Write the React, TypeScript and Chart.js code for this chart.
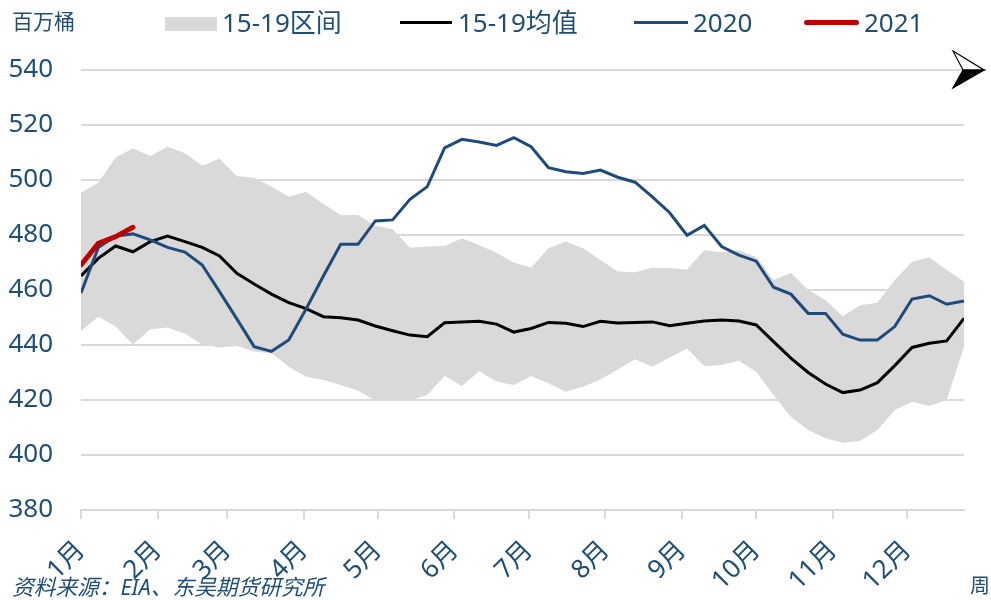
import React, { useEffect, useRef } from "react";
import { Chart, registerables } from "chart.js";

Chart.register(...registerables);

// ---- data (weekly, 52 weeks) ----
const monthLabels = ["1月", "2月", "3月", "4月", "5月", "6月", "7月", "8月", "9月", "10月", "11月", "12月"];
// month tick positions in week units
const monthTicks = [0, 4.43, 8.43, 12.86, 17.14, 21.57, 25.86, 30.29, 34.71, 39, 43.43, 47.71];
const yTicks = [380, 400, 420, 440, 460, 480, 500, 520, 540];

const bandUpper = [
  495.4, 499, 508.2, 511.5, 508.7, 512.1, 509.7, 505.3, 507.7, 501.5,
  500.8, 497.6, 493.9, 495.7, 491.3, 487.3, 487.3, 483.4, 482.1, 475.4,
  475.8, 476, 478.8, 476.4, 473.5, 470, 468.2, 475.2, 477.6, 475.2,
  470.9, 466.7, 466.5, 468.2, 467.9, 467.5, 474.5, 473.7, 474.5, 472,
  463.6, 466.3, 460, 456.4, 450.5, 454.5, 455.4, 463.6, 470.3, 471.9,
  467.3, 463,
];
const bandLower = [
  445.1, 450.3, 446.7, 440.2, 445.7, 446.4, 444.2, 440.2, 439.1, 439.6,
  437.6, 437, 432.1, 428.5, 427.3, 425.5, 423.4, 419.8, 420.3, 419.8,
  421.8, 428.7, 425.1, 430.5, 426.7, 425.5, 428.7, 426.1, 423, 424.8,
  427.5, 431.1, 434.8, 432.1, 435.5, 438.7, 432.4, 432.7, 434.3, 430.3,
  421.8, 413.9, 409.1, 406.1, 404.5, 405.2, 409.1, 416.4, 419.4, 417.8,
  420, 439.4,
];
const mean1519 = [
  465.1, 471.5, 476, 473.9, 477.6, 479.6, 477.6, 475.5, 472.4, 466.1,
  462.2, 458.5, 455.4, 453.2, 450.3, 449.9, 449.1, 446.9, 445.2, 443.6,
  443, 448.1, 448.4, 448.6, 447.6, 444.7, 446, 448.2, 447.9, 446.7,
  448.6, 448, 448.2, 448.4, 447, 447.9, 448.7, 449.1, 448.7, 447.3,
  441.2, 435.2, 430, 425.8, 422.7, 423.6, 426.3, 432.5, 439.1, 440.6,
  441.5, 449.7,
];
const y2020 = [
  458.9, 475.5, 479.6, 480.4, 478.2, 475.5, 473.8, 469.1, 459.4, 449.5,
  439.4, 437.7, 441.8, 453.1, 465.1, 476.6, 476.6, 485.1, 485.5, 493,
  497.6, 511.7, 514.8, 513.8, 512.6, 515.4, 512.1, 504.5, 503, 502.4,
  503.6, 501, 499.2, 493.9, 488.1, 479.9, 483.5, 475.8, 472.7, 470.5,
  461, 458.5, 451.5, 451.5, 443.9, 441.8, 441.8, 446.7, 456.7, 457.9,
  454.8, 456,
];
const y2021 = [469.1, 477, 479.4, 482.8];

const TEXT = "#1f4e79";
const BLUE = "#1f4a7c";
const RED = "#c00000";
const GRAY = "#d9d9d9";
const FONT = '"Noto Sans", "Noto Sans CJK SC", sans-serif';

const toXY = (arr: number[]) => arr.map((v, i) => ({ x: i, y: v }));

export default function App() {
  const ref = useRef<HTMLCanvasElement | null>(null);

  useEffect(() => {
    if (!ref.current) return;
    const chart = new Chart(ref.current, {
      type: "line",
      data: {
        datasets: [
          {
            label: "2021",
            data: toXY(y2021),
            borderColor: RED,
            borderWidth: 5,
            borderCapStyle: "round",
            borderJoinStyle: "round",
            pointRadius: 0,
            fill: false,
          },
          {
            label: "2020",
            data: toXY(y2020),
            borderColor: BLUE,
            borderWidth: 3,
            pointRadius: 0,
            fill: false,
          },
          {
            label: "15-19均值",
            data: toXY(mean1519),
            borderColor: "#000000",
            borderWidth: 3,
            pointRadius: 0,
            fill: false,
          },
          {
            label: "15-19区间",
            data: toXY(bandUpper),
            borderWidth: 0,
            borderColor: "rgba(0,0,0,0)",
            backgroundColor: GRAY,
            pointRadius: 0,
            fill: "+1",
          },
          {
            label: "lower",
            data: toXY(bandLower),
            borderWidth: 0,
            borderColor: "rgba(0,0,0,0)",
            pointRadius: 0,
            fill: false,
          },
        ],
      },
      options: {
        animation: false,
        responsive: false,
        layout: { padding: { top: 70, right: 27, bottom: 0, left: 0 } },
        plugins: {
          legend: { display: false },
          tooltip: { enabled: false },
          filler: { drawTime: "beforeDatasetsDraw" },
        },
        scales: {
          x: {
            type: "linear",
            min: 0,
            max: 51,
            afterBuildTicks: (s: any) => {
              s.ticks = monthTicks.map((v) => ({ value: v }));
            },
            afterFit: (s: any) => {
              s.height = 90;
            },
            ticks: {
              autoSkip: false,
              minRotation: 45,
              maxRotation: 45,
              padding: 16,
              color: TEXT,
              font: { size: 26, family: FONT },
              callback: (_v: any, i: number) => monthLabels[i],
            },
            grid: {
              drawOnChartArea: false,
              drawTicks: true,
              tickLength: 9,
              color: GRAY,
              lineWidth: 2,
            },
            border: { display: true, color: GRAY, width: 2 },
          },
          y: {
            min: 380,
            max: 540,
            afterBuildTicks: (s: any) => {
              s.ticks = yTicks.map((v) => ({ value: v }));
            },
            afterFit: (s: any) => {
              s.width = 81;
            },
            ticks: {
              padding: 28,
              color: TEXT,
              font: { size: 26, family: FONT },
            },
            grid: { color: GRAY, lineWidth: 2, drawTicks: false },
            border: { display: false },
          },
        },
      },
    });
    return () => chart.destroy();
  }, []);

  const txt = (extra: React.CSSProperties): React.CSSProperties => ({
    position: "absolute",
    color: TEXT,
    fontFamily: FONT,
    lineHeight: 1,
    whiteSpace: "nowrap",
    ...extra,
  });

  return (
    <div style={{ position: "fixed", left: 0, top: 0, width: 991, height: 600, background: "#fff", overflow: "hidden" }}>
      <canvas ref={ref} width={991} height={600} style={{ position: "absolute", left: 0, top: 0 }} />
      <div style={txt({ left: 12, top: 11, fontSize: 21 })}>百万桶</div>
      {/* legend */}
      <div style={{ position: "absolute", left: 165, top: 17, width: 52, height: 14, background: GRAY }} />
      <div style={txt({ left: 222, top: 9, fontSize: 26 })}>15-19区间</div>
      <div style={{ position: "absolute", left: 400, top: 21, width: 52, height: 3, background: "#000" }} />
      <div style={txt({ left: 458, top: 9, fontSize: 26 })}>15-19均值</div>
      <div style={{ position: "absolute", left: 634, top: 21, width: 54, height: 3, background: BLUE }} />
      <div style={txt({ left: 693, top: 9, fontSize: 26 })}>2020</div>
      <div style={{ position: "absolute", left: 804, top: 20, width: 55, height: 5, borderRadius: 3, background: RED }} />
      <div style={txt({ left: 864, top: 9, fontSize: 26 })}>2021</div>
      {/* north-arrow style decoration */}
      <svg style={{ position: "absolute", left: 945, top: 45 }} width={46} height={50} viewBox="945 45 46 50">
        <polygon points="953,51 984,70 963,70" fill="#fff" stroke="#000" strokeWidth={1.2} />
        <polygon points="963,70 984,70 953,88" fill="#000" stroke="#000" strokeWidth={1.2} />
      </svg>
      <div style={txt({ left: 12, top: 576, fontSize: 21.7, fontStyle: "italic" })}>资料来源：EIA、东吴期货研究所</div>
      <div style={txt({ left: 970, top: 576, fontSize: 20 })}>周</div>
    </div>
  );
}
